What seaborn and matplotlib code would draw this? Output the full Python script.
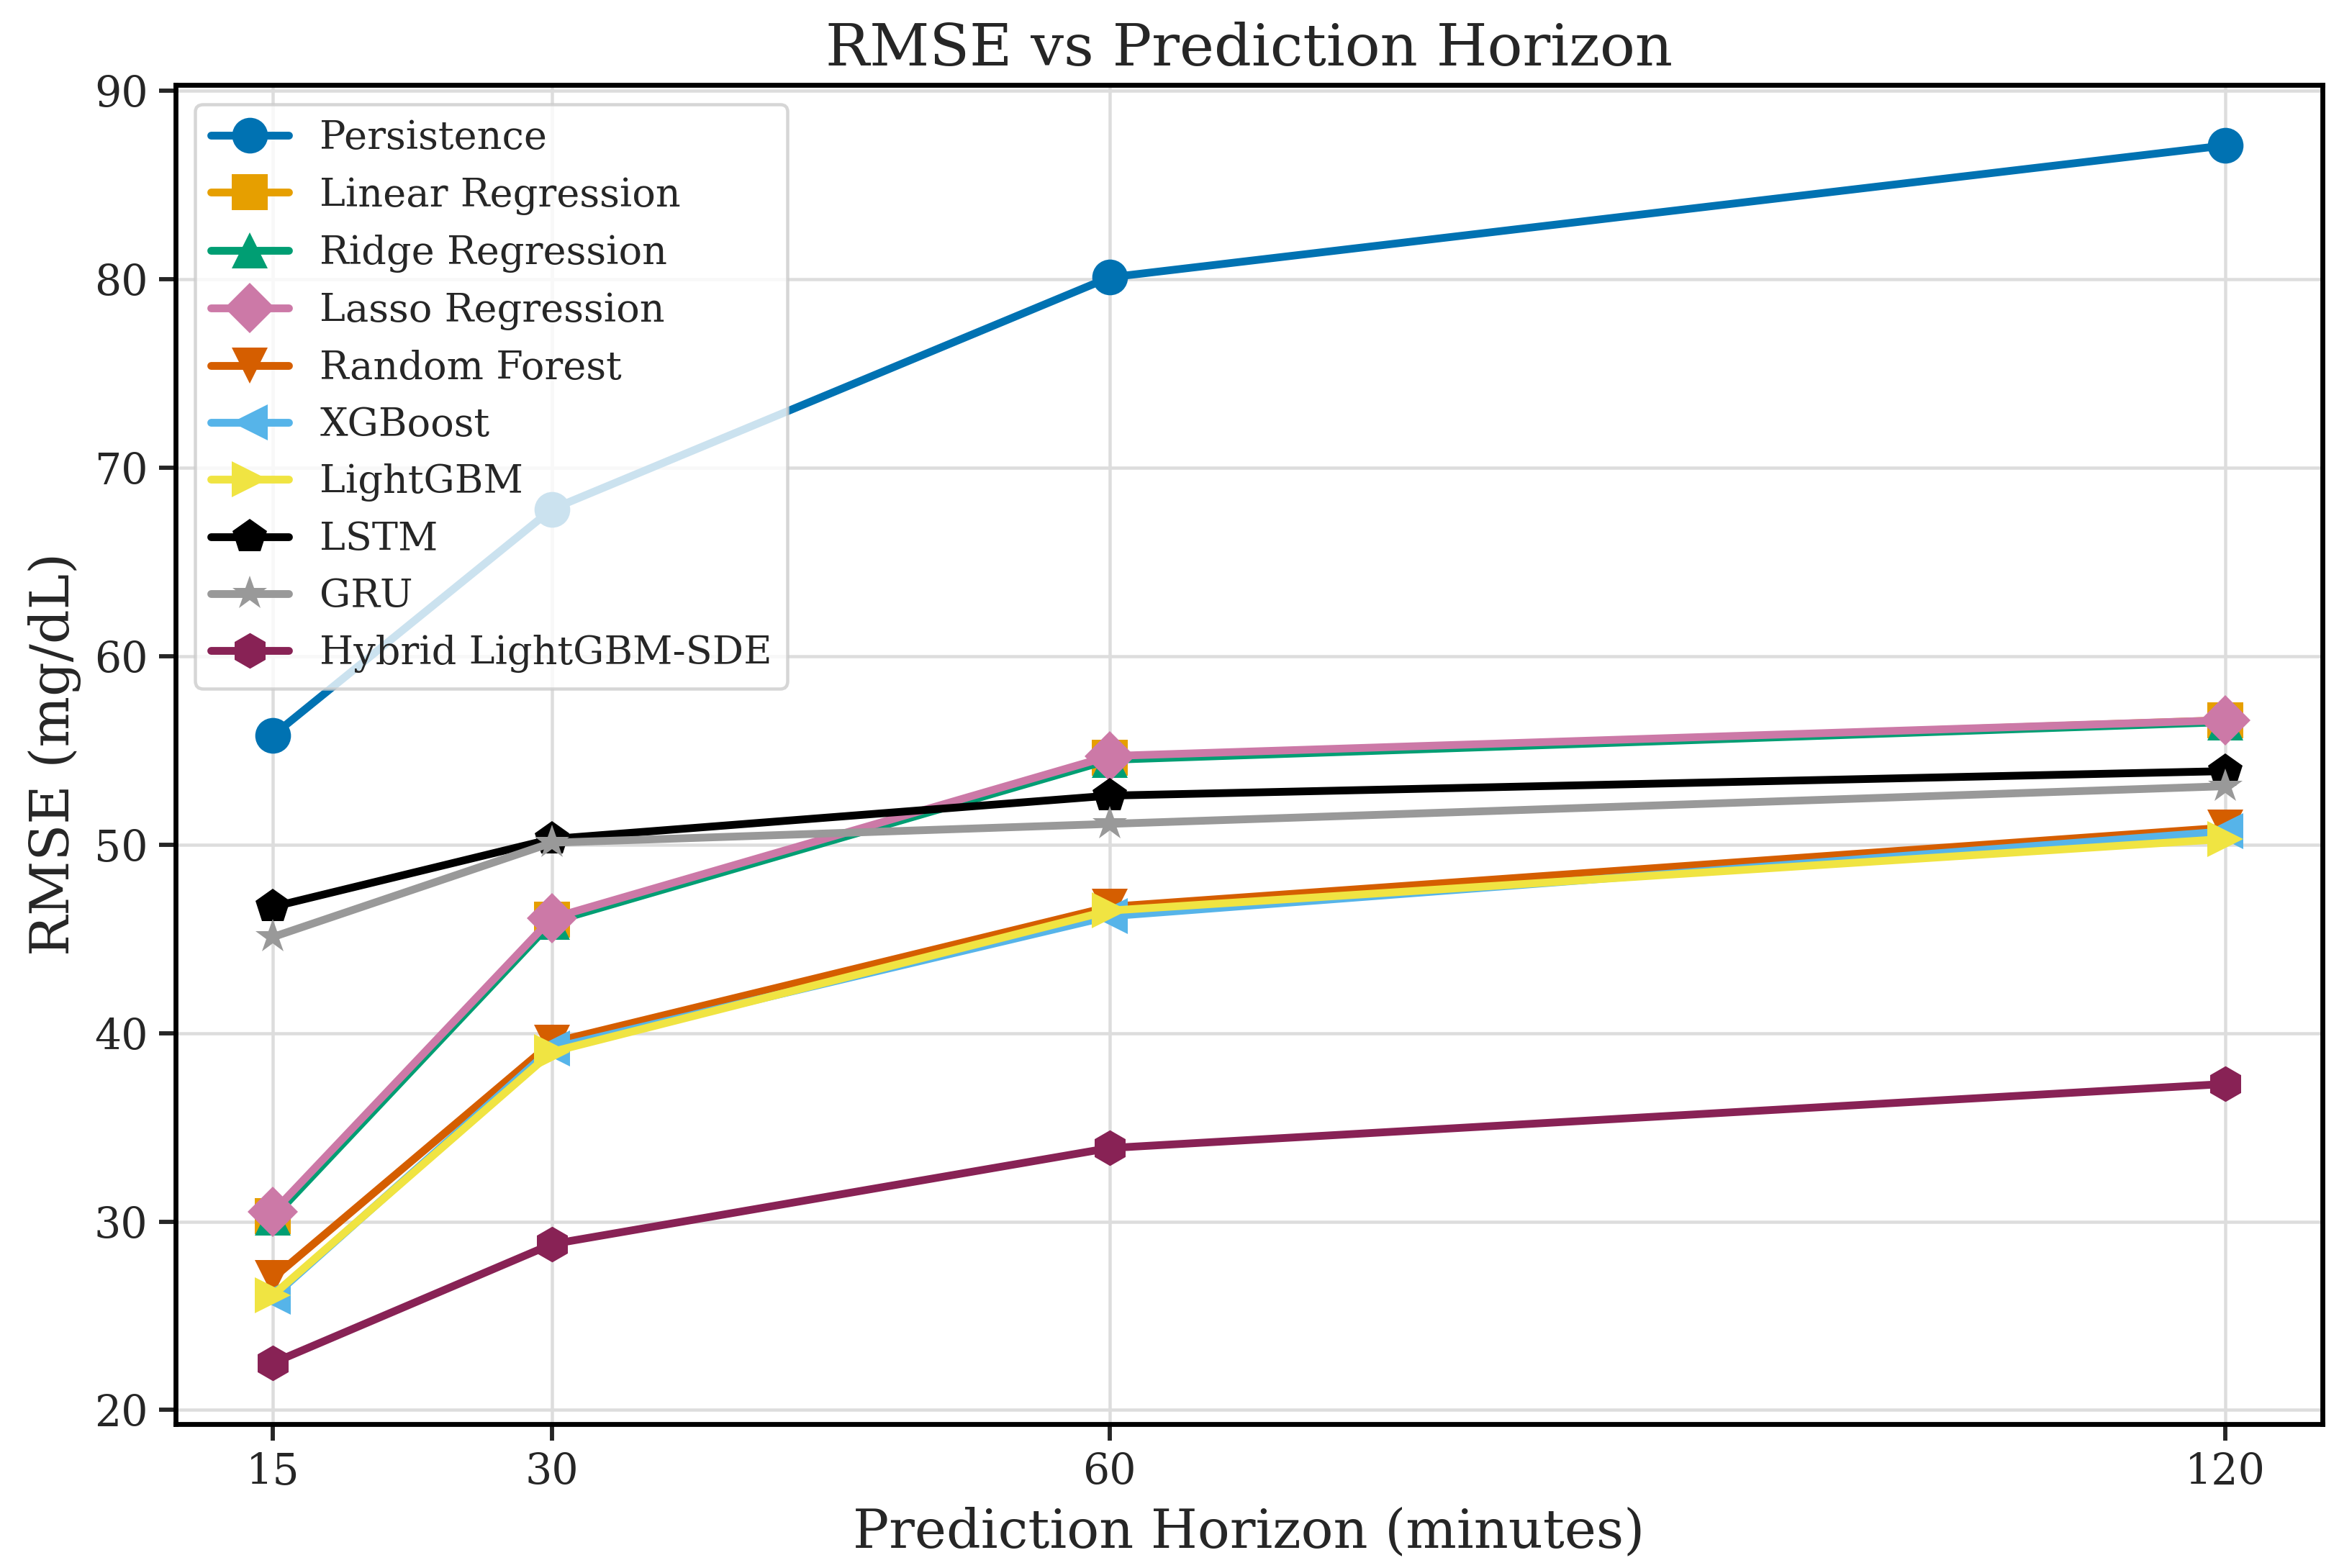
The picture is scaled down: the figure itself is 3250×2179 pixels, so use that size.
import pandas as pd
import matplotlib.pyplot as plt
import seaborn as sns

horizons = [15, 30, 60, 120]

models = ["Persistence", "Linear Regression", "Ridge Regression", "Lasso Regression",
          "Random Forest", "XGBoost", "LightGBM", "LSTM", "GRU", "Hybrid LightGBM-SDE"]

persistence = [55.8, 67.8, 80.1, 87.1]
linear_reg = [30.3, 46.0, 54.6, 56.6]
ridge_reg = [30.2, 45.9, 54.5, 56.5]
lasso_reg = [30.5, 46.1, 54.7, 56.6]
random_forest = [27.0, 39.5, 46.7, 50.9]
xgboost = [26.0, 39.2, 46.2, 50.7]
lightgbm = [26.1, 39.0, 46.5, 50.3]
lstm = [46.7, 50.3, 52.6, 53.9]
gru = [45.1, 50.1, 51.1, 53.1]
hybrid = [22.5, 28.8, 33.9, 37.3]

all_values = [persistence, linear_reg, ridge_reg, lasso_reg, random_forest,
              xgboost, lightgbm, lstm, gru, hybrid]

colors = ["#0072B2", "#E69F00", "#009E73", "#CC79A7", "#D55E00",
          "#56B4E9", "#F0E442", "#000000", "#999999", "#882255"]
marker_list = ["o", "s", "^", "D", "v", "<", ">", "p", "*", "h"]

rows = []
for name, vals in zip(models, all_values):
    for h, v in zip(horizons, vals):
        rows.append({"horizon": h, "rmse": v, "model": name})
df = pd.DataFrame(rows)

sns.set_style("ticks")
plt.rcParams["font.family"] = ["DejaVu Serif"]

fig, ax = plt.subplots(figsize=(10, 6.705), dpi=325)
sns.lineplot(data=df, x="horizon", y="rmse", hue="model", style="model",
             hue_order=models, style_order=models,
             palette=dict(zip(models, colors)),
             markers=dict(zip(models, marker_list)), dashes=False,
             linewidth=2.4, markersize=11, markeredgewidth=0, ax=ax)

ax.set_xticks(horizons)
ax.set_title("RMSE vs Prediction Horizon", fontsize=18)
ax.set_xlabel("Prediction Horizon (minutes)", fontsize=16.5)
ax.set_ylabel("RMSE (mg/dL)", fontsize=16.5)
ax.tick_params(labelsize=13, width=1.3, length=5)
ax.grid(True, color="#dddddd", linewidth=1)
for sp in ax.spines.values():
    sp.set_linewidth(1.5)
    sp.set_color("black")

handles, labels = ax.get_legend_handles_labels()
ax.legend(handles, labels, loc="upper left", fontsize=12, framealpha=0.8,
          edgecolor="#cccccc", handlelength=2.0, labelspacing=0.5)

fig.subplots_adjust(left=0.075, right=0.993, top=0.946, bottom=0.092)
fig.savefig("out.png", dpi=325)
